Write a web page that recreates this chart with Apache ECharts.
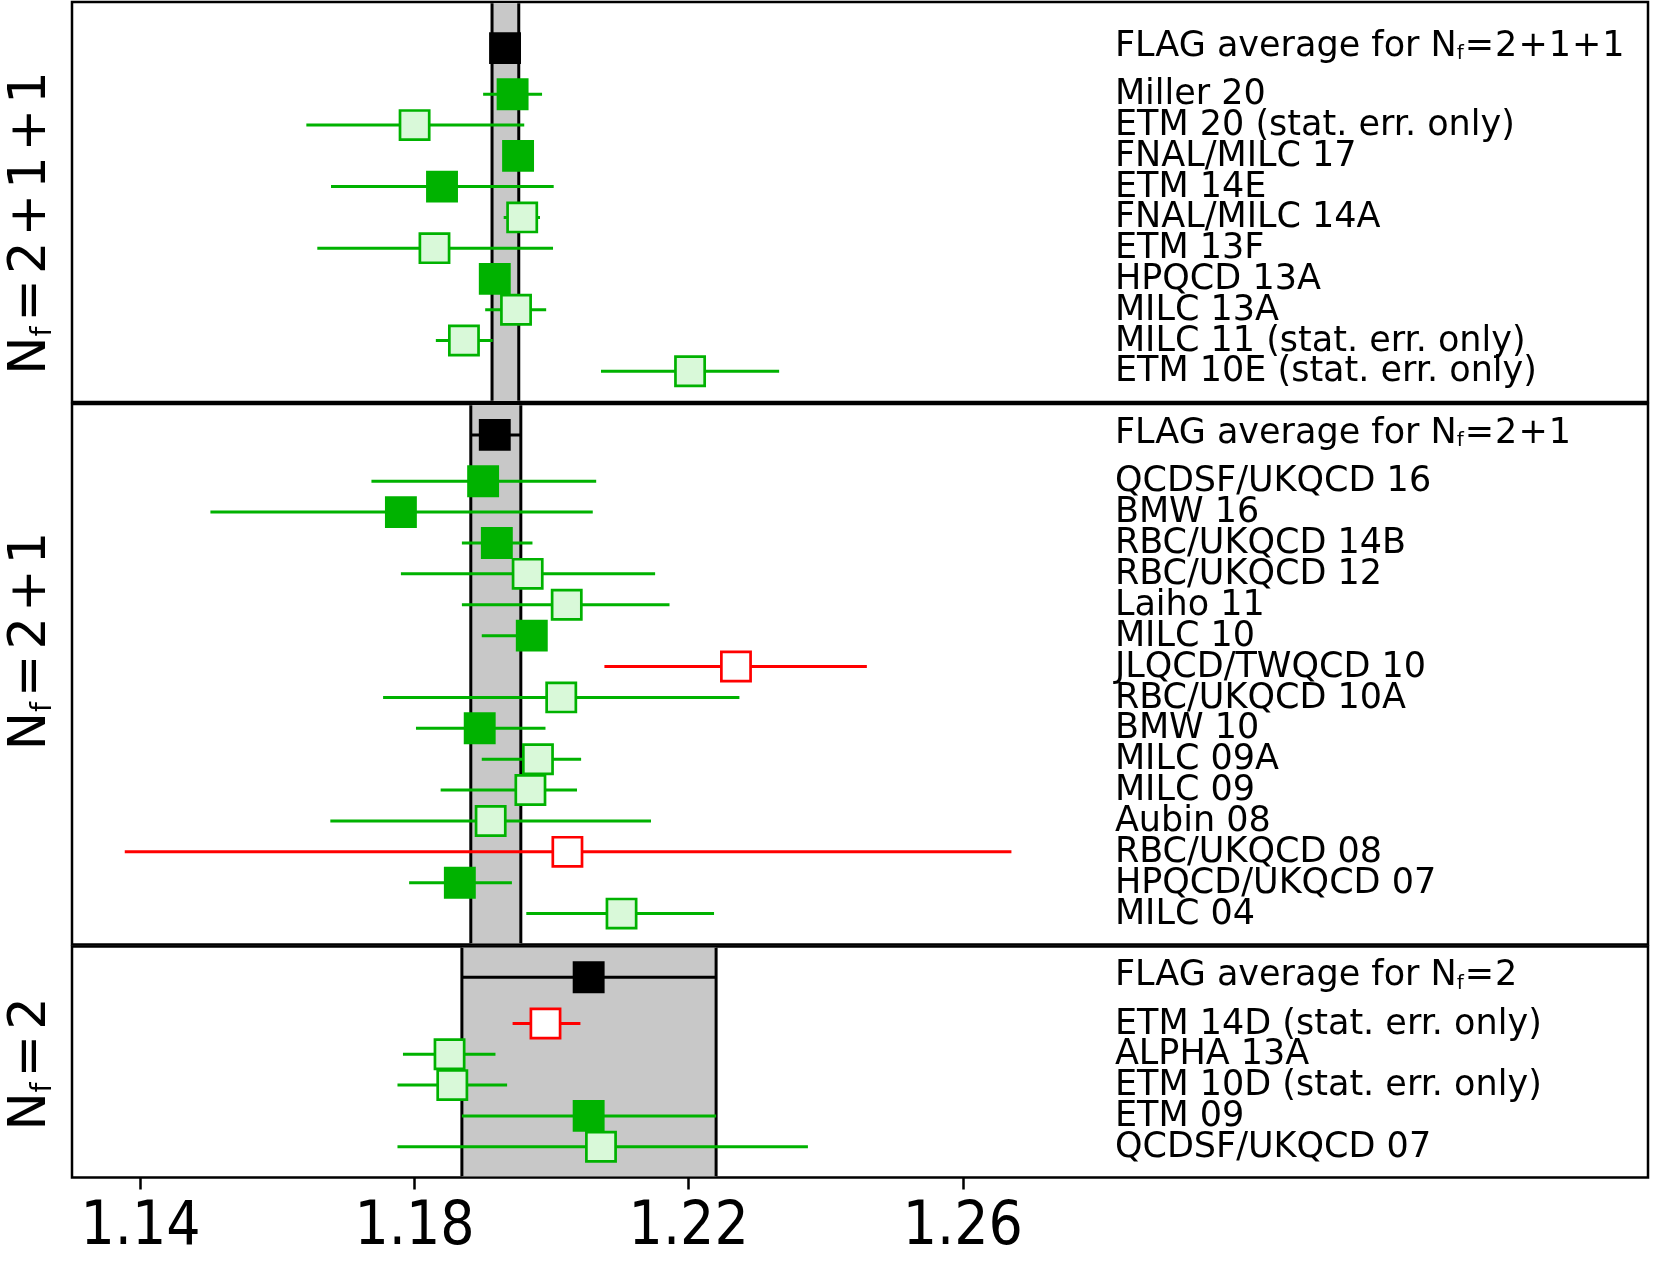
<!DOCTYPE html>
<html>
<head>
<meta charset="utf-8">
<script src="https://cdn.jsdelivr.net/npm/echarts@6/dist/echarts.min.js"></script>
<style>
html, body { margin: 0; padding: 0; background: #fff; }
#chart { width: 1653px; height: 1261px; }
</style>
</head>
<body>
<div id="chart"></div>
<script>
// tick labels of the x axis
var xTicks = [1.14, 1.18, 1.22, 1.26];

// Nf = 2+1+1
var names4 = ['Miller 20', 'ETM 20 (stat. err. only)', 'FNAL/MILC 17', 'ETM 14E', 'FNAL/MILC 14A',
	'ETM 13F', 'HPQCD 13A', 'MILC 13A', 'MILC 11 (stat. err. only)', 'ETM 10E (stat. err. only)'];
var val4 = [1.1943, 1.1800, 1.1951, 1.1840, 1.1957, 1.1829, 1.1917, 1.1948, 1.1872, 1.2202];
var lo4 = [1.1900, 1.1642, 1.1930, 1.1678, 1.1930, 1.1658, 1.1902, 1.1903, 1.1831, 1.2072];
var hi4 = [1.1986, 1.1960, 1.1966, 1.2003, 1.1983, 1.2002, 1.1932, 1.1992, 1.1914, 1.2332];
var kind4 = ['in', 'out', 'in', 'in', 'out', 'out', 'in', 'out', 'out', 'out'];
var avg4 = [1.1932, 1.1913, 1.1952]; // value, lower, upper

// Nf = 2+1
var names3 = ['QCDSF/UKQCD 16', 'BMW 16', 'RBC/UKQCD 14B', 'RBC/UKQCD 12', 'Laiho 11', 'MILC 10',
	'JLQCD/TWQCD 10', 'RBC/UKQCD 10A', 'BMW 10', 'MILC 09A', 'MILC 09', 'Aubin 08', 'RBC/UKQCD 08',
	'HPQCD/UKQCD 07', 'MILC 04'];
var val3 = [1.1900, 1.1780, 1.1920, 1.1965, 1.2022, 1.1971, 1.2269, 1.2014, 1.1895, 1.1980, 1.1969, 1.1911, 1.2023, 1.1866, 1.2102];
var lo3 = [1.1737, 1.1502, 1.1869, 1.1780, 1.1869, 1.1898, 1.2077, 1.1754, 1.1802, 1.1898, 1.1838, 1.1677, 1.1377, 1.1792, 1.1963];
var hi3 = [1.2065, 1.2060, 1.1972, 1.2151, 1.2172, 1.1991, 1.2460, 1.2274, 1.1991, 1.2043, 1.2037, 1.2145, 1.2671, 1.1942, 1.2237];
var kind3 = ['in', 'in', 'in', 'out', 'out', 'in', 'bad', 'out', 'in', 'out', 'out', 'out', 'bad', 'in', 'out'];
var avg3 = [1.1917, 1.1882, 1.1955];

// Nf = 2
var names2 = ['ETM 14D (stat. err. only)', 'ALPHA 13A', 'ETM 10D (stat. err. only)', 'ETM 09', 'QCDSF/UKQCD 07'];
var val2 = [1.1991, 1.1851, 1.1855, 1.2054, 1.2072];
var lo2 = [1.1943, 1.1783, 1.1775, 1.1869, 1.1775];
var hi2 = [1.2042, 1.1918, 1.1935, 1.2240, 1.2374];
var kind2 = ['bad', 'out', 'out', 'in', 'out'];
var avg2 = [1.2054, 1.1869, 1.2240];

var GREEN = '#00b200', LIGHT = '#d9f9d9', RED = '#ff0000';
var FONT = '"DejaVu Sans", sans-serif';
var LABEL_X = 1.2822;
var markStyle = {
	avg: { line: '#000', fill: '#000', edge: '#000' },
	'in': { line: GREEN, fill: GREEN, edge: GREEN },
	out: { line: GREEN, fill: LIGHT, edge: GREEN },
	bad: { line: RED, fill: '#fff', edge: RED }
};

// N_f = 2+1+1 als rich text
function nfText(parts) {
	return 'N{sub|f}{op|=}' + parts.join('{op|+}');
}

// panel layout
var panels = [
	{ names: names4, val: val4, lo: lo4, hi: hi4, kind: kind4, avg: avg4, nf: ['2', '1', '1'],
		top: 2, height: 400, span: 13, avgRow: 1.5, firstRow: 3, labelY: 223 },
	{ names: names3, val: val3, lo: lo3, hi: hi3, kind: kind3, avg: avg3, nf: ['2', '1'],
		top: 404, height: 540.5, span: 17.5, avgRow: 1, firstRow: 2.5, labelY: 641 },
	{ names: names2, val: val2, lo: lo2, hi: hi2, kind: kind2, avg: avg2, nf: ['2'],
		top: 946.5, height: 231, span: 7.5, avgRow: 1, firstRow: 2.5, labelY: 1064 }
];

var grids = [], xAxes = [], yAxes = [], series = [], graphics = [];

panels.forEach(function(p, k) {
	var last = (k == panels.length - 1);
	grids.push({
		left: 72, width: 1576, top: p.top, height: p.height,
		show: true, borderColor: '#000', borderWidth: 2.5, backgroundColor: 'transparent'
	});
	var xa = {
		gridIndex: k, type: 'value', min: 1.13, max: 1.36, show: last, position: 'bottom',
		axisLine: { show: false, onZero: false },
		splitLine: { show: false },
		axisTick: { show: false },
		axisLabel: { show: false }
	};
	if (last) {
		xa.axisTick = { show: true, customValues: xTicks, length: 12, lineStyle: { color: '#000', width: 2.5 } };
		xa.axisLabel = {
			show: true, customValues: xTicks, margin: 21, color: '#000', fontSize: 60,
			fontFamily: '"DejaVu Sans Condensed", "DejaVu Sans", sans-serif',
			formatter: function(v) { return v.toFixed(2); }
		};
	}
	xAxes.push(xa);
	yAxes.push({ gridIndex: k, type: 'value', min: 0, max: p.span, inverse: true, show: false,
		axisLine: { onZero: false } });

	// grauer Band der FLAG-Mittelung
	series.push({
		type: 'custom', xAxisIndex: k, yAxisIndex: k, z: 1, silent: true,
		encode: { x: [0, 1], y: 2 },
		data: [[p.avg[1], p.avg[2], 0]],
		renderItem: function(params, api) {
			var a = api.coord([api.value(0), 0]);
			var b = api.coord([api.value(1), p.span]);
			var y0 = Math.min(a[1], b[1]) + 1.25, y1 = Math.max(a[1], b[1]) - 1.25;
			return {
				type: 'group',
				children: [
					{ type: 'rect', shape: { x: a[0], y: y0, width: b[0] - a[0], height: y1 - y0 }, style: { fill: '#c8c8c8' } },
					{ type: 'line', shape: { x1: a[0], y1: y0, x2: a[0], y2: y1 }, style: { stroke: '#000', lineWidth: 3 } },
					{ type: 'line', shape: { x1: b[0], y1: y0, x2: b[0], y2: y1 }, style: { stroke: '#000', lineWidth: 3 } }
				]
			};
		}
	});

	// Datenpunkte mit Fehlerbalken und Beschriftung
	var data = [[p.avg[0], p.avg[1], p.avg[2], p.avgRow, -1]];
	for (var i = 0; i < p.val.length; i++) {
		data.push([p.val[i], p.lo[i], p.hi[i], p.firstRow + i, i]);
	}
	series.push({
		type: 'custom', xAxisIndex: k, yAxisIndex: k, z: 2, silent: true,
		encode: { x: [0, 1, 2], y: 3 },
		data: data,
		renderItem: function(params, api) {
			var idx = api.value(4);
			var row = api.value(3);
			var c = api.coord([api.value(0), row]);
			var l = api.coord([api.value(1), row]);
			var h = api.coord([api.value(2), row]);
			var t = api.coord([LABEL_X, row]);
			var st = markStyle[idx < 0 ? 'avg' : p.kind[idx]];
			var txt = idx < 0 ? 'FLAG average for ' + nfText(p.nf) : p.names[idx];
			return {
				type: 'group',
				children: [
					{ type: 'line', shape: { x1: l[0], y1: c[1], x2: h[0], y2: c[1] }, style: { stroke: st.line, lineWidth: 3 } },
					{ type: 'rect', shape: { x: c[0] - 14.6, y: c[1] - 14.6, width: 29.2, height: 29.2 },
						style: { fill: st.fill, stroke: st.edge, lineWidth: 2.7 } },
					{ type: 'text', x: t[0], y: c[1] + (idx < 0 ? -1 : 1),
						style: {
							text: txt, fill: '#000', fontSize: 35, fontFamily: FONT, lineHeight: 34,
							align: 'left', verticalAlign: 'middle',
							rich: {
								sub: { fontSize: 20, lineHeight: 14, verticalAlign: 'bottom', fontFamily: FONT },
								op: { fontSize: 35, lineHeight: 34, fontFamily: FONT, padding: [0, 1] }
							}
						}
					}
				]
			};
		}
	});

	// Beschriftung links (N_f = ...)
	graphics.push({
		type: 'text', x: 32, y: p.labelY, rotation: Math.PI / 2, silent: true,
		style: {
			text: nfText(p.nf), fill: '#000', fontSize: 51, fontFamily: FONT, lineHeight: 51,
			align: 'center', verticalAlign: 'middle',
			rich: {
				sub: { fontSize: 28, lineHeight: 20, verticalAlign: 'bottom', fontFamily: FONT },
				op: { fontSize: 51, lineHeight: 51, fontFamily: FONT, padding: [0, 5] }
			}
		}
	});
});

var myChart = echarts.init(document.getElementById('chart'));
myChart.setOption({
	animation: false,
	backgroundColor: '#fff',
	grid: grids,
	xAxis: xAxes,
	yAxis: yAxes,
	series: series,
	graphic: graphics
});
</script>
</body>
</html>
